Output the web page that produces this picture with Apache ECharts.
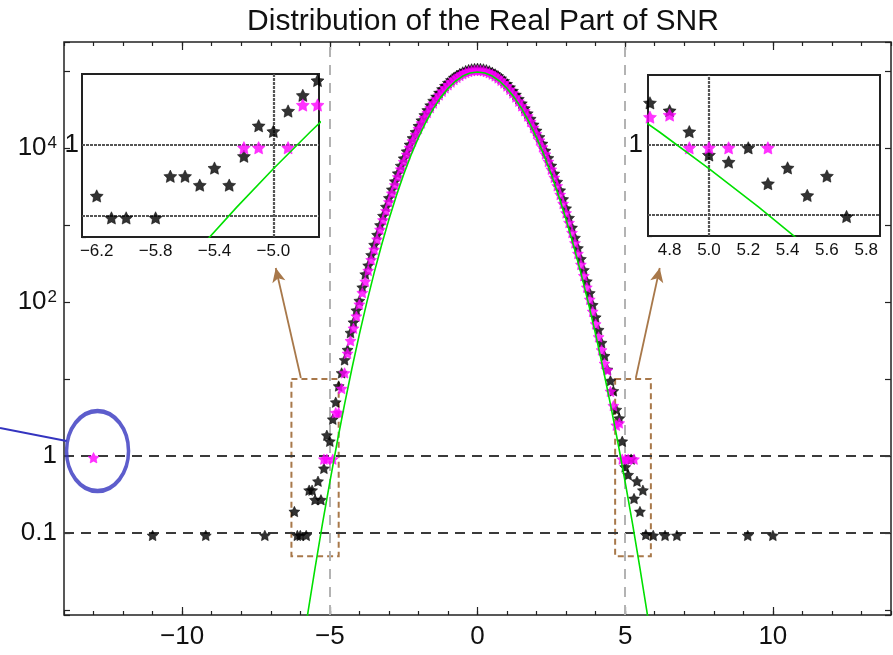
<!DOCTYPE html>
<html><head><meta charset="utf-8">
<script src="https://cdn.jsdelivr.net/npm/echarts@6/dist/echarts.min.js"></script>
<style>html,body{margin:0;padding:0;background:#fff}#c{width:893px;height:655px}</style>
</head><body><div id="c"></div><script>
// ---------------- data ----------------
const titleText = 'Distribution of the Real Part of SNR';
// histogram bin centres (body)
const binX = [-4.6,-4.5,-4.4,-4.3,-4.2,-4.1,-4.0,-3.9,-3.8,-3.7,-3.6,-3.5,-3.4,-3.3,-3.2,-3.1,-3.0,-2.9,-2.8,-2.7,-2.6,-2.5,-2.4,-2.3,-2.2,-2.1,-2.0,-1.9,-1.8,-1.7,-1.6,-1.5,-1.4,-1.3,-1.2,-1.1,-1.0,-0.9,-0.8,-0.7,-0.6,-0.5,-0.4,-0.3,-0.2,-0.1,0,
  0.1,0.2,0.3,0.4,0.5,0.6,0.7,0.8,0.9,1.0,1.1,1.2,1.3,1.4,1.5,1.6,1.7,1.8,1.9,2.0,2.1,2.2,2.3,2.4,2.5,2.6,2.7,2.8,2.9,3.0,3.1,3.2,3.3,3.4,3.5,3.6,3.7,3.8,3.9,4.0,4.1,4.2,4.3,4.4,4.5,4.6];
const blackBody = [12.0,17.7,24,40,54.5,77.9,104,155,230,299,409,555,747,997,1320,1730,2250,2900,3710,4700,5900,7350,9080,11100,13500,16200,19400,22900,26900,31200,36000,41200,46600,52400,58300,64400,70500,76500,82300,87800,92900,97300,101200,104300,106600,107900,108400,
  107900,106400,103900,100600,96500,91700,86300,80500,74400,68100,61740,55480,49400,43560,38060,32960,28270,24020,20220,16870,13940,11410,9260,7440,5924,4672,3650,2827,2169,1648,1241,926,684,501,363,261,186,131,91.8,63.5,43.6,29.6,20.0,13.3,9.5,7.0];
const magentaBody = [7.5,12,21.5,31.4,45.5,65.5,93.3,132,185,256,353,481,651,873,1160,1528,1995,2583,3314,4215,5316,6645,8233,10110,12320,14860,17780,21090,24800,28900,33390,38240,43420,48860,54500,60270,66070,71810,77330,82580,87420,91730,95410,98370,100560,101900,102300,
  101800,100400,98060,94840,90880,86270,81140,75540,69690,63680,57640,51680,45910,40400,35200,30380,25980,22000,18460,15350,12640,10300,8324,6659,5280,4143,3223,2483,1895,1432,1072,795,584,425,307,219,155,108,75.3,51.8,35.2,23.8,15.9,13,6.9,4.5];
// tails
const blackTailX = [-11.0,-9.2,-7.2,-6.2,-6.1,-6.0,-5.8,-5.7,-5.6,-5.5,-5.4,-5.3,-5.2,-5.1,-5.0,-4.9,-4.8,-4.7,4.7,4.8,4.9,5.0,5.1,5.2,5.3,5.4,5.5,5.6,5.7,5.95,6.35,6.75,9.15,10.0];
const blackTailY = [0.093,0.093,0.093,0.19,0.093,0.093,0.093,0.36,0.36,0.27,0.47,0.27,0.69,1.86,1.55,3.0,5.0,8.1,4.0,3.09,1.55,0.72,0.57,0.91,0.28,0.47,0.19,0.36,0.095,0.093,0.093,0.093,0.093,0.093];
const magentaTailX = [-13.0,-5.2,-5.1,-4.9,-4.8,-4.7,4.7,4.8,4.9,5.0,5.1,5.3];
const magentaTailY = [0.95,0.91,0.91,0.91,3.65,3.65,2.5,2.68,0.91,0.91,0.91,0.91];
// fitted gaussian (green)
const greenX = [-6.0,-5.75,-5.5,-5.25,-5.0,-4.75,-4.5,-4.25,-4.0,-3.75,-3.5,-3.25,-3.0,-2.75,-2.5,-2.25,-2.0,-1.75,-1.5,-1.25,-1.0,-0.75,-0.5,-0.25,0,0.25,0.5,0.75,1.0,1.25,1.5,1.75,2.0,2.25,2.5,2.75,3.0,3.25,3.5,3.75,4.0,4.25,4.5,4.75,5.0,5.25,5.5,5.75,6.0];
const greenY = [0.00208,0.00881,0.035,0.131,0.459,1.52,4.72,13.8,37.9,98.1,239,546,1175,2380,4530,8110,13650,21600,32200,45100,59400,73600,85900,94150,97000,94150,85900,73600,59400,45100,32200,21600,13650,8110,4530,2380,1175,546,239,98.1,37.9,13.8,4.72,1.52,0.459,0.131,0.035,0.00881,0.00208];
// ticks / labels
const xMajorTicks = [-10,-5,0,5,10];
const xMinorTicks = [-14,-13,-12,-11,-10,-9,-8,-7,-6,-5,-4,-3,-2,-1,0,1,2,3,4,5,6,7,8,9,10,11,12,13,14];
const yLabelExp = [-1,0,2,4];
const yLabelText = ['0.1','1','10{s|2}','10{s|4}'];
const inset1Ticks = [-6.2,-6.0,-5.8,-5.6,-5.4,-5.2,-5.0,-4.8];
const inset1Labels = [-6.2,-5.8,-5.4,-5.0];
const inset2Ticks = [4.8,5.0,5.2,5.4,5.6,5.8];
const inset2Labels = [4.8,5.0,5.2,5.4,5.6,5.8];
// reference lines, zoom boxes, arrows
const refY = [1,0.1];
const refX = [-5,5];
const box1X = [-6.3,-4.7], box2X = [4.66,5.87], boxY = [0.05,10];
const inset1Range = [-6.3,-4.69], inset2Range = [4.69,5.87], insetYRange = [0.05,10];
const mainXRange = [-14,14], mainYRange = [0.00861,238000];
const arrow1 = [[-5.98,10.3],[-6.83,276]];
const arrow2 = [[5.36,10.3],[6.17,276]];
const circledPoint = [-13.0, 1];

// ---------------- build ----------------
const FONT = "'Liberation Sans', Arial, Helvetica, sans-serif";
const STAR = 'path://M0,-10 L2.9,-4.0 L9.51,-3.09 L4.76,1.55 L5.88,8.09 L0,5.0 L-5.88,8.09 L-4.76,1.55 L-9.51,-3.09 L-2.9,-4.0 Z';
const blackData = binX.map((x,i)=>[x,blackBody[i]]).concat(blackTailX.map((x,i)=>[x,blackTailY[i]]));
const magentaData = binX.map((x,i)=>[x,magentaBody[i]]).concat(magentaTailX.map((x,i)=>[x,magentaTailY[i]]));
const greenData = greenX.map((x,i)=>[x,greenY[i]]);
const minus = v => (v<0?'\u2212':'') + Math.abs(v);
const minus1 = v => (v<0?'\u2212':'') + Math.abs(v).toFixed(1);
const TICK = {color:'#222', width:1.2};
const BLACK = {color:'#000', borderColor:'#000', borderWidth:0.6};
const MAG = {color:'#ff00ff', borderColor:'#ff00ff', borderWidth:0.6};

function xAx(grid, pos, range, ticks, len, labels, fmt, fs){
  const o = {type:'value', gridIndex:grid, position:pos, min:range[0], max:range[1],
    axisLine:{show:false,onZero:false}, splitLine:{show:false},
    axisTick:{show:true, inside:true, length:len, customValues:ticks, lineStyle:TICK},
    axisLabel:{show:false}};
  if (labels) o.axisLabel = {show:true, customValues:labels, formatter:fmt, fontSize:fs, color:'#111', fontFamily:FONT, margin: fs>20?9:6};
  return o;
}
function yLog(grid,pos,range,len,fmt,fs,margin){
  return {type:'log', logBase:10, gridIndex:grid, position:pos, min:range[0], max:range[1],
    axisLine:{show:false,onZero:false}, splitLine:{show:false}, minorTick:{show:false},
    axisTick:{show:true, inside:true, length:len, lineStyle:TICK},
    axisLabel: fmt ? {show:true, formatter:fmt, fontSize:fs, color:'#111', fontFamily:FONT, margin:margin,
      rich:{s:{fontSize:17, verticalAlign:'top', fontFamily:FONT, color:'#111', padding:[0,0,0,1]}}} : {show:false}};
}
const mainYFmt = v => { const l=Math.log10(v), e=Math.round(l); if (Math.abs(l-e)>0.01) return ''; const i=yLabelExp.indexOf(e); return i<0?'':yLabelText[i]; };
const insetYFmt = v => Math.abs(Math.log10(v))<0.01 ? '1' : '';

const option = {
  animation:false,
  backgroundColor:'#fff',
  title:{text:titleText, left:478, top:2, textAlign:'center', textStyle:{fontSize:30, fontWeight:'normal', color:'#111', fontFamily:FONT}},
  grid:[
    {left:64, top:42, width:827, height:573, show:true, borderColor:'#222', borderWidth:1.5, backgroundColor:'#fff', containLabel:false},
    {left:82, top:74, width:237, height:163, show:true, borderColor:'#222', borderWidth:2, backgroundColor:'#fff', z:5},
    {left:648, top:75, width:232, height:161, show:true, borderColor:'#222', borderWidth:2, backgroundColor:'#fff', z:5}
  ],
  xAxis:[
    xAx(0,'bottom',mainXRange,xMajorTicks,8,xMajorTicks,minus,26),
    xAx(0,'bottom',mainXRange,xMinorTicks,4),
    xAx(0,'top',mainXRange,xMajorTicks,8),
    xAx(0,'top',mainXRange,xMinorTicks,4),
    xAx(1,'bottom',inset1Range,inset1Ticks,4,inset1Labels,minus1,17),
    xAx(1,'top',inset1Range,inset1Ticks,4),
    xAx(2,'bottom',inset2Range,inset2Ticks,4,inset2Labels,minus1,17),
    xAx(2,'top',inset2Range,inset2Ticks,4)
  ],
  yAxis:[
    yLog(0,'left',mainYRange,6,mainYFmt,26,7),
    yLog(0,'right',mainYRange,6),
    yLog(1,'left',insetYRange,4,insetYFmt,26,3),
    yLog(2,'left',insetYRange,4,insetYFmt,26,5)
  ],
  series:[
    // main plot
    {type:'scatter', name:'black', xAxisIndex:0, yAxisIndex:0, data:blackData, symbol:STAR, symbolSize:11, symbolKeepAspect:true, itemStyle:BLACK, z:2,
      markLine:{silent:true, symbol:'none', z:1, label:{show:false},
        data: refY.map(v=>({yAxis:v, lineStyle:{color:'#3a3a3a', type:[10,7], width:2}}))
          .concat(refX.map(v=>({xAxis:v, lineStyle:{color:'#b3b3b3', type:[10,8], width:2}})))},
      markArea:{silent:true, z:1, itemStyle:{color:'rgba(0,0,0,0)', borderColor:'#a8784a', borderWidth:2, borderType:[6,4]},
        data:[[{coord:[box1X[0],boxY[1]]},{coord:[box1X[1],boxY[0]]}],[{coord:[box2X[0],boxY[1]]},{coord:[box2X[1],boxY[0]]}]]}},
    {type:'scatter', name:'magenta', xAxisIndex:0, yAxisIndex:0, data:magentaData, symbol:STAR, symbolSize:11, symbolKeepAspect:true, itemStyle:MAG, z:3},
    {type:'line', name:'fit', xAxisIndex:0, yAxisIndex:0, data:greenData, showSymbol:false, lineStyle:{color:'#00e000', width:1.6}, z:4,
      markLine:{silent:true, symbol:['none','arrow'], symbolSize:[10,14], label:{show:false}, lineStyle:{color:'#a8784a', width:1.8, type:'solid'},
        data:[[{coord:arrow1[0]},{coord:arrow1[1]}],[{coord:arrow2[0]},{coord:arrow2[1]}]]}},
    {type:'scatter', name:'circle', xAxisIndex:0, yAxisIndex:0, data:[circledPoint], symbol:'circle', symbolSize:[62,80], symbolOffset:[4,-5],
      itemStyle:{color:'rgba(0,0,0,0)', borderColor:'#3434bf', borderWidth:4}, z:5, silent:true},
    // inset 1
    {type:'line', xAxisIndex:4, yAxisIndex:2, data:[], z:6,
      markLine:{silent:true, symbol:'none', z:6, label:{show:false}, lineStyle:{color:'#555', type:[3,1], width:2.2},
        data:[{xAxis:-5},{yAxis:1},{yAxis:0.1}]}},
    {type:'scatter', xAxisIndex:4, yAxisIndex:2, data:blackData, symbol:STAR, symbolSize:13, symbolKeepAspect:true, itemStyle:BLACK, z:7},
    {type:'scatter', xAxisIndex:4, yAxisIndex:2, data:magentaData, symbol:STAR, symbolSize:13, symbolKeepAspect:true, itemStyle:MAG, z:8},
    {type:'line', xAxisIndex:4, yAxisIndex:2, data:greenData, showSymbol:false, lineStyle:{color:'#00e000', width:1.6}, z:9},
    // inset 2
    {type:'line', xAxisIndex:6, yAxisIndex:3, data:[], z:6,
      markLine:{silent:true, symbol:'none', z:6, label:{show:false}, lineStyle:{color:'#555', type:[3,1], width:2.2},
        data:[{xAxis:5},{yAxis:1},{yAxis:0.1}]}},
    {type:'scatter', xAxisIndex:6, yAxisIndex:3, data:blackData, symbol:STAR, symbolSize:13, symbolKeepAspect:true, itemStyle:BLACK, z:7},
    {type:'scatter', xAxisIndex:6, yAxisIndex:3, data:magentaData, symbol:STAR, symbolSize:13, symbolKeepAspect:true, itemStyle:MAG, z:8},
    {type:'line', xAxisIndex:6, yAxisIndex:3, data:greenData, showSymbol:false, lineStyle:{color:'#00e000', width:1.6}, z:9}
  ]
};
const chart = echarts.init(document.getElementById('c'), null, {renderer:'canvas'});
chart.setOption(option);
// pointer line to the circled point
const p = chart.convertToPixel({xAxisIndex:0, yAxisIndex:0}, circledPoint);
chart.setOption({graphic:[{type:'line', silent:true, z:10,
  shape:{x1:0, y1:p[1]-28, x2:p[0]-27, y2:p[1]-15}, style:{stroke:'#3434bf', lineWidth:2}}]});
</script></body></html>
